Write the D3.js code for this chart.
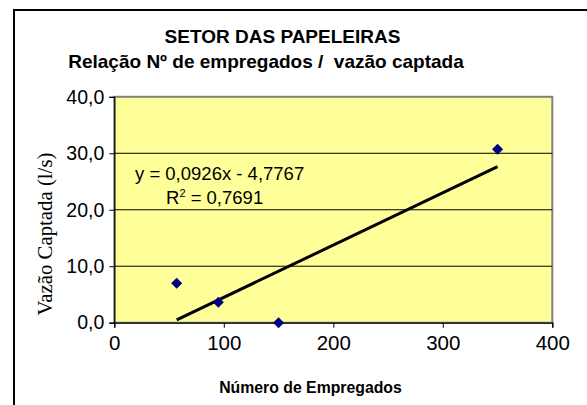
<!DOCTYPE html>
<html>
<head>
<meta charset="utf-8">
<script src="https://cdn.jsdelivr.net/npm/d3@7"></script>
<style>
html,body{margin:0;padding:0;background:#fff;}
svg{display:block;}
</style>
</head>
<body>
<svg id="chart" width="587" height="405"></svg>
<script>
const empregados = [57, 95, 150, 350];
const vazao = [7.0, 3.6, 0.0, 30.7];
const xTicks = [0, 100, 200, 300, 400];
const yTicks = [0, 10, 20, 30, 40];
const slope = 0.0926, intercept = -4.7767;
const titleLines = ["SETOR DAS PAPELEIRAS", "Relação Nº de empregados /  vazão captada"];
const equationText = "y = 0,0926x - 4,7767";
const r2Value = "0,7691";
const xTitle = "Número de Empregados";
const yTitle = "Vazão Captada (l/s)";

const svg = d3.select("#chart");
const pLeft = 114.3, pRight = 552.3, pTop = 96.8, pBottom = 322.7;
const x = d3.scaleLinear().domain([0, 400]).range([pLeft, pRight]);
const y = d3.scaleLinear().domain([0, 40]).range([pBottom, pTop]);
const fmt = d => d3.format(".1f")(d).replace(".", ",");

// outer frame
svg.append("rect").attr("x", 14).attr("y", 10).attr("width", 620).attr("height", 440)
  .attr("fill", "none").attr("stroke", "#000").attr("stroke-width", 2);

// plot area
svg.append("rect").attr("x", pLeft).attr("y", pTop).attr("width", pRight - pLeft).attr("height", pBottom - pTop)
  .attr("fill", "#FFFF99").attr("stroke", "#808080").attr("stroke-width", 2);

// gridlines
svg.append("g").selectAll("line").data(yTicks.filter(d => d > 0 && d < 40)).join("line")
  .attr("x1", pLeft).attr("x2", pRight).attr("y1", d => y(d)).attr("y2", d => y(d))
  .attr("stroke", "#000").attr("stroke-width", 1);

// axes
const yAxis = svg.append("g").attr("transform", `translate(${pLeft},0)`)
  .call(d3.axisLeft(y).tickValues(yTicks).tickFormat(fmt).tickSize(5).tickPadding(5));
yAxis.select(".domain").attr("stroke", "#000").attr("stroke-width", 1.2);
yAxis.selectAll(".tick line").attr("stroke", "#000");
yAxis.selectAll("text").attr("font-family", "Liberation Sans, Arial, sans-serif").attr("font-size", 19.5).attr("fill", "#000");

const xAxis = svg.append("g").attr("transform", `translate(0,${pBottom})`)
  .call(d3.axisBottom(x).tickValues(xTicks).tickFormat(d3.format("d")).tickSize(5).tickPadding(8));
xAxis.select(".domain").attr("stroke", "#000").attr("stroke-width", 1.2);
xAxis.selectAll(".tick line").attr("stroke", "#000");
xAxis.selectAll("text").attr("font-family", "Liberation Sans, Arial, sans-serif").attr("font-size", 20.5).attr("fill", "#000");

// trend line
const xmin = d3.min(empregados), xmax = d3.max(empregados);
svg.append("line")
  .attr("x1", x(xmin)).attr("y1", y(slope * xmin + intercept))
  .attr("x2", x(xmax)).attr("y2", y(slope * xmax + intercept))
  .attr("stroke", "#000").attr("stroke-width", 3);

// points
const pts = empregados.map((d, i) => [d, vazao[i]]);
svg.append("g").selectAll("path").data(pts).join("path")
  .attr("transform", d => `translate(${x(d[0])},${y(d[1])})`)
  .attr("d", "M0,-5.5L5.5,0L0,5.5L-5.5,0Z")
  .attr("fill", "#000080");

// titles
svg.append("text").attr("x", 282.5).attr("y", 43).attr("text-anchor", "middle")
  .attr("font-family", "Liberation Sans, Arial, sans-serif").attr("font-weight", "bold").attr("font-size", 19)
  .text(titleLines[0]);
svg.append("text").attr("x", 266).attr("y", 68).attr("text-anchor", "middle")
  .attr("font-family", "Liberation Sans, Arial, sans-serif").attr("font-weight", "bold").attr("font-size", 19)
  .style("white-space", "pre")
  .text(titleLines[1]);

// equation
svg.append("text").attr("x", 135).attr("y", 180)
  .attr("font-family", "Liberation Sans, Arial, sans-serif").attr("font-size", 18.5)
  .text(equationText);
const r2 = svg.append("text").attr("x", 166).attr("y", 203.5)
  .attr("font-family", "Liberation Sans, Arial, sans-serif").attr("font-size", 18.5);
r2.append("tspan").text("R");
r2.append("tspan").attr("font-size", 11).attr("dy", -7).text("2");
r2.append("tspan").attr("dy", 7).text(" = " + r2Value);

// axis titles
svg.append("text").attr("x", 310.5).attr("y", 392.5).attr("text-anchor", "middle")
  .attr("font-family", "Liberation Sans, Arial, sans-serif").attr("font-weight", "bold").attr("font-size", 15.8)
  .text(xTitle);
svg.append("text").attr("transform", "translate(52,234) rotate(-90)").attr("text-anchor", "middle")
  .attr("font-family", "Liberation Serif, Times New Roman, serif").attr("font-size", 20.8)
  .text(yTitle);
</script>
</body>
</html>
